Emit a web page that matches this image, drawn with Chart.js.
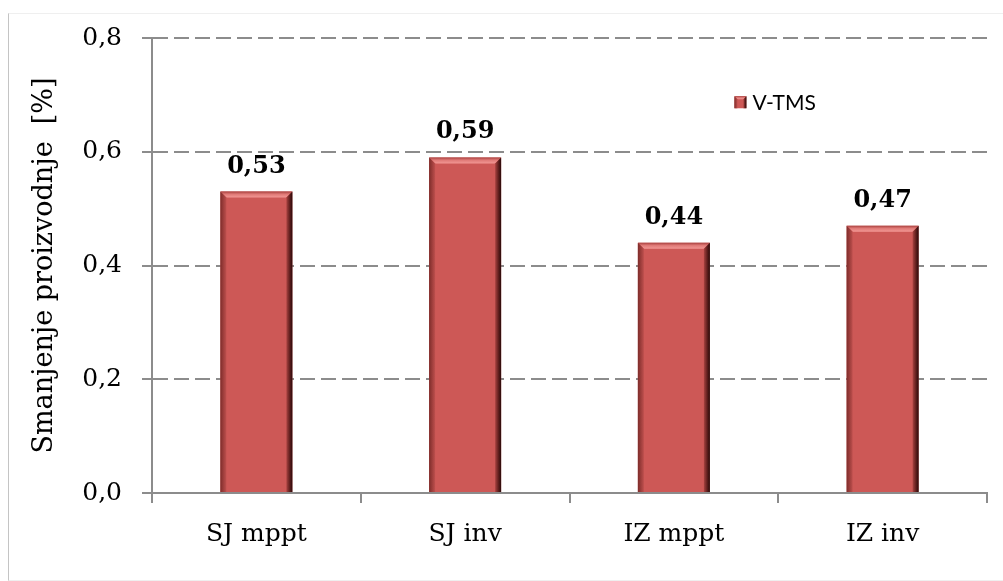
<!DOCTYPE html>
<html>
<head>
<meta charset="utf-8">
<script src="https://cdn.jsdelivr.net/npm/chart.js@4.4.1/dist/chart.umd.min.js"></script>
<style>
    html, body { margin: 0; padding: 0; background: #fff; }
    #wrap { position: relative; width: 1003px; height: 581px; overflow: hidden; }
    #frame {
        position: absolute; left: 8px; top: 13px; width: 1000px; height: 566px;
        border-left: 1px solid #c4c4c4; border-top: 1px solid #efefef; border-bottom: 1px solid #efefef;
    }
    #chart { position: absolute; left: 0; top: 0; }
</style>
</head>
<body>
<div id="wrap">
    <div id="frame"></div>
    <canvas id="chart" width="1003" height="581"></canvas>
</div>
<script>
/* Smanjenje proizvodnje - V-TMS */

const categories = ['SJ mppt', 'SJ inv', 'IZ mppt', 'IZ inv'];
const vTmsValues = [0.53, 0.59, 0.44, 0.47];
const yTicks = [0, 0.2, 0.4, 0.6, 0.8];
const seriesLabel = 'V-TMS';

const SERIF = "'DejaVu Serif', 'Liberation Serif', serif";
const GRID_COLOR = '#8c8c8c';
const BAR_COLOR = '#cd5856';

function fmtComma(v, digits) {
    return Number(v).toFixed(digits).replace('.', ',');
}

// bevelled box, like the Excel "bevel" effect
function drawBevel(ctx, left, top, right, bottom, b) {
    let g;
    // top strip
    g = ctx.createLinearGradient(0, top, 0, top + b);
    g.addColorStop(0, '#a9403e');
    g.addColorStop(0.45, '#e07a77');
    g.addColorStop(1, '#f29794');
    ctx.fillStyle = g;
    ctx.beginPath();
    ctx.moveTo(left, top); ctx.lineTo(right, top);
    ctx.lineTo(right - b, top + b); ctx.lineTo(left + b, top + b);
    ctx.closePath(); ctx.fill();

    // left strip
    g = ctx.createLinearGradient(left, 0, left + b, 0);
    g.addColorStop(0, '#7e2c2a');
    g.addColorStop(1, '#bd4f4d');
    ctx.fillStyle = g;
    ctx.beginPath();
    ctx.moveTo(left, top); ctx.lineTo(left + b, top + b);
    ctx.lineTo(left + b, bottom); ctx.lineTo(left, bottom);
    ctx.closePath(); ctx.fill();

    // right strip
    g = ctx.createLinearGradient(right - b, 0, right, 0);
    g.addColorStop(0, '#a84240');
    g.addColorStop(0.6, '#5a1c1b');
    g.addColorStop(1, '#2a0a0a');
    ctx.fillStyle = g;
    ctx.beginPath();
    ctx.moveTo(right, top); ctx.lineTo(right - b, top + b);
    ctx.lineTo(right - b, bottom); ctx.lineTo(right, bottom);
    ctx.closePath(); ctx.fill();
}

const bevelPlugin = {
    id: 'bevelBars',
    afterDatasetsDraw(chart) {
        const ctx = chart.ctx;
        const meta = chart.getDatasetMeta(0);
        ctx.save();
        meta.data.forEach((bar, i) => {
            const p = bar.getProps(['x', 'y', 'base', 'width'], true);
            const left = p.x - p.width / 2;
            const right = p.x + p.width / 2;
            drawBevel(ctx, left, p.y, right, p.base, 6);

            // value label
            ctx.fillStyle = '#000';
            ctx.font = "bold 24px " + SERIF;
            ctx.textAlign = 'center';
            ctx.textBaseline = 'alphabetic';
            ctx.fillText(fmtComma(vTmsValues[i], 2), p.x, p.y - 19);
        });
        ctx.restore();
    },
    afterDraw(chart) {
        // legend inside the plot area
        const ctx = chart.ctx;
        const x = chart.scales.x.getPixelForValue(2.29);
        const y = chart.scales.y.getPixelForValue(0.687);
        ctx.save();
        ctx.fillStyle = BAR_COLOR;
        ctx.fillRect(x, y - 6, 12, 12);
        drawBevel(ctx, x, y - 6, x + 12, y + 6, 3);
        ctx.fillStyle = '#000';
        ctx.font = "21px Lato, 'Liberation Sans', sans-serif";
        ctx.textAlign = 'left';
        ctx.textBaseline = 'middle';
        ctx.fillText(seriesLabel, x + 18, y + 1);
        ctx.restore();
    }
};

const ctx = document.getElementById('chart').getContext('2d');

new Chart(ctx, {
    type: 'bar',
    data: {
        labels: categories,
        datasets: [{
            label: seriesLabel,
            data: vTmsValues,
            backgroundColor: BAR_COLOR,
            borderWidth: 0,
            categoryPercentage: 1,
            barPercentage: 0.345
        }]
    },
    options: {
        responsive: false,
        animation: false,
        devicePixelRatio: 1,
        layout: { padding: { left: 0, right: 16, top: 38, bottom: 0 } },
        plugins: {
            legend: { display: false },
            tooltip: { enabled: false }
        },
        scales: {
            x: {
                grid: {
                    display: true,
                    drawOnChartArea: false,
                    drawTicks: true,
                    tickLength: 10,
                    offset: true,
                    color: GRID_COLOR,
                    lineWidth: 2
                },
                border: { display: true, color: GRID_COLOR, width: 2 },
                ticks: {
                    color: '#000',
                    padding: 16,
                    font: { family: SERIF, size: 25 },
                    maxRotation: 0
                },
                afterFit(scale) { scale.height = 88; }
            },
            y: {
                min: 0,
                max: 0.8,
                afterBuildTicks(scale) {
                    scale.ticks = yTicks.map(v => ({ value: v }));
                },
                grid: {
                    color: GRID_COLOR,
                    lineWidth: 2,
                    tickLength: 10,
                    tickBorderDash: []
                },
                border: { display: true, color: GRID_COLOR, width: 2, dash: [15, 6] },
                ticks: {
                    color: '#000',
                    padding: 20,
                    font: { family: SERIF, size: 25 },
                    callback: v => fmtComma(v, 1)
                },
                title: {
                    display: true,
                    text: 'Smanjenje proizvodnje  [%]',
                    color: '#000',
                    font: { family: SERIF, size: 27 },
                    padding: { top: 29, bottom: 0 }
                },
                afterFit(scale) { scale.width = 152; }
            }
        }
    },
    plugins: [bevelPlugin]
});
</script>
</body>
</html>
